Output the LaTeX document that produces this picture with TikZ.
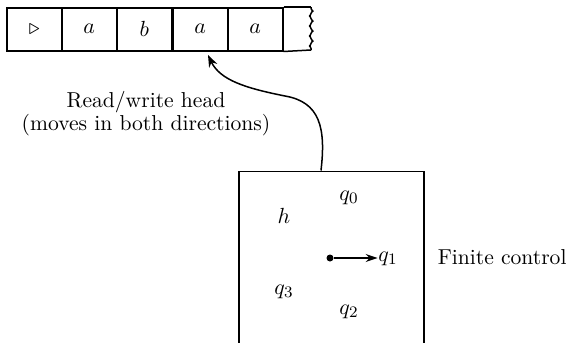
\documentclass[tikz,border=0pt]{standalone}
\usetikzlibrary{arrows.meta}
\begin{document}
\begin{tikzpicture}[x=0.5pt,y=-0.5pt,
  line width=0.75pt,
  every node/.style={font=\fontsize{10.8}{11.5}\selectfont, inner sep=0pt},
  cellbox/.style={draw, minimum width=27.5pt, minimum height=21.5pt, anchor=north west, inner sep=0pt},
  lbl/.style={anchor=center},
  headarrow/.style={-{Stealth[length=6pt,width=4.5pt]}}]
\useasboundingbox (0,0) rectangle (569,343);
% tape
\node[cellbox] (c0) at (6,7) {$\triangleright$};
\node[cellbox] (c1) at (61,7) {$a$};
\node[cellbox] (c2) at (116,7) {$b$};
\node[cellbox] (c3) at (172,7) {$a$};
\node[cellbox] (c4) at (227,7) {$a$};
\coordinate (tr) at (311,7);
\coordinate (br) at (311,50);
\draw (c4.north east) -- (tr);
\draw (c4.south east) -- (br);
\draw[line join=round] (tr) -- ++(0,1.5)
  sin ++(2,2.5) cos ++(-2,2.5) sin ++(-1.5,2.5) cos ++(1.5,2.5)
  sin ++(2,2.5) cos ++(-2,2.5) sin ++(-1.5,2.5) cos ++(1.5,2.5)
  sin ++(2,2.5) cos ++(-2,2.5) sin ++(-1.5,2.5) cos ++(1.5,2.5)
  sin ++(2,2.5) cos ++(-2,2.5) sin ++(-1.5,2.5) cos ++(1.5,2.5)
  -- (br);
% head text
\node[align=center] (head) at (146,114) {Read/write head\\(moves in both directions)};
% finite control box
\node[draw, minimum width=92.5pt, minimum height=86pt, anchor=north west] (fc) at (238,170.5) {};
\coordinate (start) at (321,170.5);
\coordinate (tip) at (208,55);
\draw[headarrow] (start) .. controls (326,128) and (320,102) .. (285,96)
  .. controls (245,88) and (220,80) .. (tip);
% states
\node[lbl] (q0) at (349,198) {$q_0$};
\node[lbl] (h) at (284,216) {$h$};
\node[lbl] (q1) at (388,259) {$q_1$};
\node[lbl] (q3) at (284,292) {$q_3$};
\node[lbl] (q2) at (349,312) {$q_2$};
\node[circle, fill, minimum size=3.5pt] (dot) at (330,258) {};
\draw[-{Stealth[length=6pt,width=4pt]}] (dot) -- (dot -| q1.west);
\node[anchor=west] (fclbl) at (437,257) {Finite control};
\end{tikzpicture}
\end{document}
